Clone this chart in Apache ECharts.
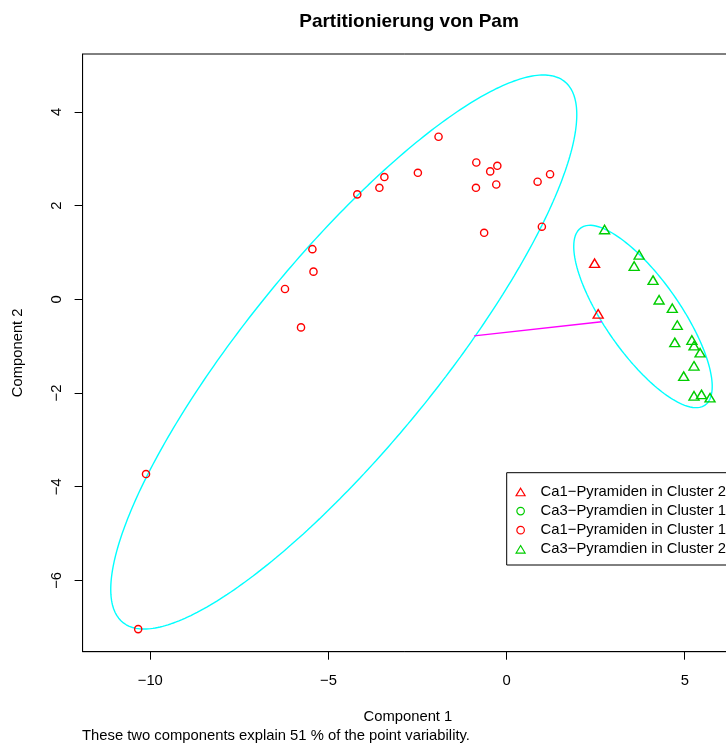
<!DOCTYPE html>
<html><head><meta charset="utf-8">
<script src="https://cdn.jsdelivr.net/npm/echarts@6/dist/echarts.min.js"></script>
<style>html,body{margin:0;padding:0;background:#fff}#c{width:726px;height:747px}</style>
</head><body><div id="c"></div>
<script>
// ---- data ----
const titleText = 'Partitionierung von Pam';
const xName = 'Component 1';
const yName = 'Component 2';
const footnote = 'These two components explain 51 % of the point variability.';
const xTicks = [-10, -5, 0, 5];
const yTicks = [-6, -4, -2, 0, 2, 4];
const legendNames = ['Ca1\u2212Pyramiden in Cluster 2', 'Ca3\u2212Pyramdien in Cluster 1', 'Ca1\u2212Pyramiden in Cluster 1', 'Ca3\u2212Pyramdien in Cluster 2'];
const ca1Cluster1 = [[-3.43,2.61],[-3.57,2.38],[-4.19,2.24],[-5.45,1.07],[-5.42,0.59],[-6.22,0.22],[-5.77,-0.60],
  [-1.91,3.47],[-2.49,2.70],[-0.85,2.92],[-0.26,2.85],[-0.46,2.73],[-0.86,2.38],[-0.29,2.45],[0.87,2.51],[1.22,2.67],
  [-0.63,1.42],[0.99,1.55],[-10.12,-3.73],[-10.34,-7.04]];
const ca1Cluster2 = [[2.47,0.77],[2.57,-0.31]];
const ca3Cluster1 = [];
const ca3Cluster2 = [[2.75,1.49],[3.72,0.95],[3.58,0.71],[4.11,0.41],[4.28,-0.01],[4.65,-0.19],[4.79,-0.55],
  [4.72,-0.92],[5.20,-0.87],[5.26,-0.99],[5.43,-1.14],[5.26,-1.42],[4.97,-1.64],[5.26,-2.06],[5.47,-2.03],[5.71,-2.10]];
const ellipseCenters = [[-4.57,-1.125],[3.828,-0.367]];
const ellipseCov = [[42.77,33.13,34.96],[3.776,-2.903,3.789]]; // sxx, sxy, syy
const connector = [[-0.91,-0.78],[2.67,-0.48]];

// ---- build ----
function ellipsePath(c, s){
  const l11 = Math.sqrt(s[0]), l21 = s[1]/l11, l22 = Math.sqrt(s[2]-l21*l21);
  const out = [];
  for(let i=0;i<=360;i++){
    const t = i*Math.PI/180;
    out.push([c[0]+l11*Math.cos(t), c[1]+l21*Math.cos(t)+l22*Math.sin(t)]);
  }
  return out;
}
const minus = v => String(v).replace('-', '\u2212');
const RED='#FF0000', GREEN='#00CD00', CYAN='#00FFFF', MAG='#FF00FF';
const FONT='Liberation Sans, Arial, Helvetica, sans-serif';
const FS=14.8;
const triSize=[10,8.5], circSize=7.2;

const chart = echarts.init(document.getElementById('c'));
const series = [];
ellipseCenters.forEach((c,i)=>series.push({type:'line', data: ellipsePath(c, ellipseCov[i]), symbol:'none', silent:true,
  lineStyle:{color:CYAN, width:1.4}, z:1}));
series.push({type:'line', data: connector, symbol:'none', lineStyle:{color:MAG, width:1.4}, z:1});
function pts(name, data, sym, col){
  return {type:'scatter', name, data, symbol:sym, symbolSize: sym==='triangle'?triSize:circSize,
    itemStyle:{color:'rgba(0,0,0,0)', borderColor:col, borderWidth:1.4, opacity:1}, z:3};
}
series.push(pts(legendNames[2], ca1Cluster1, 'circle', RED));
series.push(pts(legendNames[0], ca1Cluster2, 'triangle', RED));
series.push(pts(legendNames[1], ca3Cluster1, 'circle', GREEN));
series.push(pts(legendNames[3], ca3Cluster2, 'triangle', GREEN));

chart.setOption({
  animation:false,
  backgroundColor:'#fff',
  title:{text:titleText, left:404, top:7, textAlign:'center',
    textStyle:{fontFamily:FONT, fontWeight:'bold', fontSize:19, color:'#000'}},
  grid:{left:82.6, top:54, width:650.6, height:597.7, show:true, borderColor:'#000', borderWidth:1,
    backgroundColor:'transparent', outerBoundsMode:'none', containLabel:false},
  xAxis:{type:'value', min:-11.9, max:6.36, name:xName, nameLocation:'middle', nameGap:58,
    nameTextStyle:{fontFamily:FONT, fontSize:FS, color:'#000'},
    axisLine:{show:true, onZero:false, lineStyle:{color:'#000', width:1}},
    axisTick:{show:true, inside:false, length:8, customValues:xTicks, lineStyle:{color:'#000'}},
    axisLabel:{customValues:xTicks, formatter:minus, margin:21.5, fontFamily:FONT, fontSize:FS, color:'#000'},
    splitLine:{show:false}},
  yAxis:{type:'value', min:-7.522, max:5.236, name:yName, nameLocation:'middle', nameGap:57,
    nameTextStyle:{fontFamily:FONT, fontSize:FS, color:'#000'},
    axisLine:{show:true, onZero:false, lineStyle:{color:'#000', width:1}},
    axisTick:{show:true, inside:false, length:8, customValues:yTicks, lineStyle:{color:'#000'}},
    axisLabel:{customValues:yTicks, formatter:minus, rotate:90, margin:18.4, fontFamily:FONT, fontSize:FS, color:'#000'},
    splitLine:{show:false}},
  legend:{data:legendNames, orient:'vertical', left:506.7, top:472.7,
    padding:[11.8,8,10.2,8.8], itemGap:4.1, itemWidth:9, itemHeight:7.5,
    itemStyle:{borderWidth:1.2},
    textStyle:{fontFamily:FONT, fontSize:FS, color:'#000', padding:[0,0,0,10.5]}},
  graphic:[
    {type:'rect', shape:{x:506.7, y:472.7, width:300, height:92.3}, style:{fill:'none', stroke:'#000', lineWidth:1}, z:10},
    {type:'text', left:82, top:728, style:{text:footnote, font:FS+'px '+FONT, fill:'#000'}}
  ],
  series
});
</script></body></html>
